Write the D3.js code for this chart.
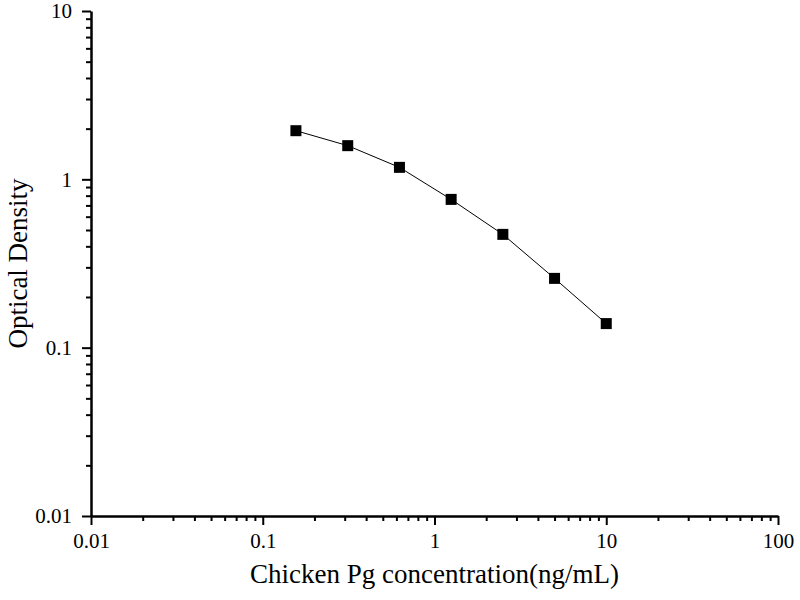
<!DOCTYPE html>
<html>
<head>
<meta charset="utf-8">
<script src="https://cdn.jsdelivr.net/npm/d3@7"></script>
<style>
  body { margin: 0; background: #fff; }
  svg text { font-family: "Liberation Serif", "Times New Roman", serif; fill: #000; }
</style>
</head>
<body>
<div id="chart"></div>
<script>
// Standard curve values
const concentrations = [0.156, 0.3125, 0.625, 1.25, 2.5, 5, 10];
const opticalDensity = [1.945, 1.585, 1.178, 0.760, 0.471, 0.258, 0.139];
const xTicks = [0.01, 0.1, 1, 10, 100];
const yTicks = [0.01, 0.1, 1, 10];
const xLabel = 'Chicken Pg concentration(ng/mL)';
const yLabel = 'Optical Density';

const width = 800;
const height = 600;
const margin = { top: 11, right: 22, bottom: 84, left: 91 };

const svg = d3.select('#chart')
  .append('svg')
  .attr('width', width)
  .attr('height', height);

const xScale = d3.scaleLog()
  .domain([0.01, 100])
  .range([margin.left, width - margin.right]);

const yScale = d3.scaleLog()
  .domain([0.01, 10])
  .range([height - margin.bottom, margin.top]);

// minor ticks: 2..9 within each decade
function minorTicks(scale) {
  const [lo, hi] = scale.domain();
  const out = [];
  for (let d = lo; d < hi; d *= 10) {
    for (let k = 2; k <= 9; k++) out.push(d * k);
  }
  return out;
}

// minor ticks first, then major axes on top
svg.append('g')
  .attr('transform', `translate(0, ${yScale(0.01)})`)
  .call(d3.axisBottom(xScale).tickValues(minorTicks(xScale)).tickFormat('').tickSize(5).tickSizeOuter(0))
  .call(g => g.select('.domain').remove())
  .call(g => g.selectAll('line').attr('stroke-width', 2));

svg.append('g')
  .attr('transform', `translate(${xScale(0.01)}, 0)`)
  .call(d3.axisLeft(yScale).tickValues(minorTicks(yScale)).tickFormat('').tickSize(5).tickSizeOuter(0))
  .call(g => g.select('.domain').remove())
  .call(g => g.selectAll('line').attr('stroke-width', 2));

const xAxis = svg.append('g')
  .attr('transform', `translate(0, ${yScale(0.01)})`)
  .call(d3.axisBottom(xScale).tickValues(xTicks).tickFormat(d => String(d)).tickSize(9).tickSizeOuter(0).tickPadding(8));

const yAxis = svg.append('g')
  .attr('transform', `translate(${xScale(0.01)}, 0)`)
  .call(d3.axisLeft(yScale).tickValues(yTicks).tickFormat(d => String(d)).tickSize(9).tickSizeOuter(0).tickPadding(10));

[xAxis, yAxis].forEach(g => {
  g.select('.domain').attr('stroke-width', 2.5);
  g.selectAll('.tick line').attr('stroke-width', 2);
  g.selectAll('.tick text')
    .style('font-family', '"Liberation Serif", serif')
    .style('font-size', '21px');
});

// axis titles
svg.append('text')
  .attr('x', (xScale.range()[0] + xScale.range()[1]) / 2)
  .attr('y', 583)
  .attr('text-anchor', 'middle')
  .style('font-size', '27px')
  .text(xLabel);

svg.append('text')
  .attr('transform', `translate(27, ${(yScale.range()[0] + yScale.range()[1]) / 2}) rotate(-90)`)
  .attr('text-anchor', 'middle')
  .style('font-size', '27px')
  .text(yLabel);

const points = concentrations.map((c, i) => ({ x: c, y: opticalDensity[i] }));

const line = d3.line()
  .x(d => xScale(d.x))
  .y(d => yScale(d.y));

svg.append('path')
  .datum(points)
  .attr('fill', 'none')
  .attr('stroke', '#000')
  .attr('stroke-width', 1)
  .attr('d', line);

const size = 11;
svg.append('g')
  .selectAll('rect')
  .data(points)
  .join('rect')
  .attr('x', d => xScale(d.x) - size / 2)
  .attr('y', d => yScale(d.y) - size / 2)
  .attr('width', size)
  .attr('height', size)
  .attr('fill', '#000');
</script>
</body>
</html>
